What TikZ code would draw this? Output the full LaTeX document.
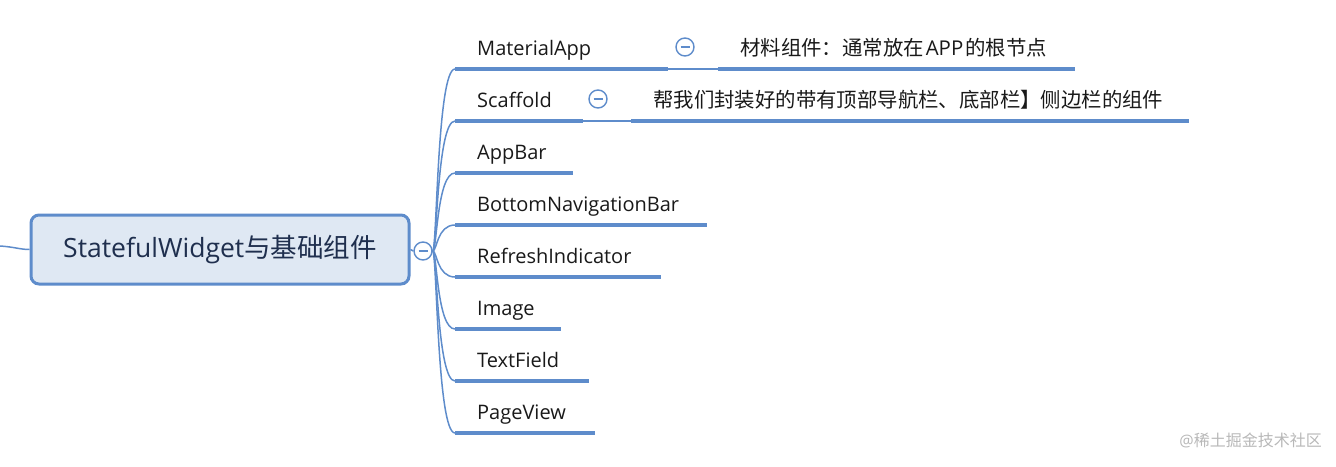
\documentclass[tikz,border=0pt]{standalone}
\usepackage{fontspec}
\setmainfont{Open Sans}
\newfontfamily\cjk{Noto Sans CJK SC}
\newfontfamily\lat{Open Sans}
\definecolor{bl}{HTML}{5E8CCB}
\definecolor{cfill}{HTML}{DFE8F3}
\definecolor{ctext}{HTML}{1F2F4E}
\definecolor{wm}{HTML}{B8B8B8}
\tikzset{
  conn/.style={draw=bl, line width=1.5pt},
  uline/.style={draw=bl, line width=4pt},
  thin/.style={draw=bl, line width=1.5pt},
  branch/.style={anchor=base west, inner sep=0pt, font=\lat\fontsize{20}{24}\selectfont, text=black!90},
  note/.style={anchor=base west, inner sep=0pt, font=\cjk\fontsize{20.4}{24}\selectfont, text=black!90},
  minusc/.style={circle, draw=bl, fill=white, line width=1.4pt, minimum size=18pt, inner sep=0pt,
    path picture={\draw[bl, line width=1.4pt] ([xshift=-4.5pt]path picture bounding box.center) -- ([xshift=4.5pt]path picture bounding box.center);}},
  central/.style={draw=bl, fill=cfill, line width=3pt, rounded corners=8pt, minimum width=378pt, minimum height=69pt, inner sep=0pt, text=ctext}
}
\begin{document}
\begin{tikzpicture}[x=1pt,y=-1pt]
\useasboundingbox (0,0) rectangle (1336,466);
% central
\node[central] (root) at (220,249.5) {\lat\fontsize{26.5}{31}\selectfont StatefulWidget{\cjk 与基础组件}};
\coordinate (lin) at (0,246);
\draw[conn] (lin) .. controls (15,247) and (20,249.5) .. (root.west);
\node[minusc] (col) at (423,251) {};
\draw[conn] (root.east) -- (col.west);
% branches
\foreach \i/\y/\e/\t in {1/69/668/MaterialApp, 2/121/583/Scaffold, 3/173/573/AppBar, 4/225/707/BottomNavigationBar, 5/277/661/RefreshIndicator, 6/329/561/Image, 7/381/589/TextField, 8/433/595/PageView}{
  \coordinate (u\i) at (455,\y);
  \coordinate (e\i) at (\e,\y);
  \node[branch] (b\i) at (477,\y-14) {\t};
  \draw[conn] (col.east) .. controls (437,251) and (437,\y) .. (u\i);
  \draw[uline] (u\i) -- (e\i);
}
% MaterialApp detail
\node[minusc] (m1) at (685,47) {};
\coordinate (s1) at (718,69);
\coordinate (t1) at (1075,69);
\draw[thin] (e1) -- (s1);
\draw[uline] (s1) -- (t1);
\node[note] (n1) at (740,55) {材料组件：通常放在\kern2pt{\lat APP}\kern2pt 的根节点};
% Scaffold detail
\node[minusc] (m2) at (598,99) {};
\coordinate (s2) at (631,121);
\coordinate (t2) at (1189,121);
\draw[thin] (e2) -- (s2);
\draw[uline] (s2) -- (t2);
\node[note] (n2) at (653,107) {帮我们封装好的带有顶部导航栏、底部栏】侧边栏的组件};
% watermark
\node[anchor=base east, inner sep=0pt, text=wm, font=\cjk\fontsize{16}{19}\selectfont] (wmk) at (1322,446) {{\lat @}稀土掘金技术社区};
\end{tikzpicture}
\end{document}
